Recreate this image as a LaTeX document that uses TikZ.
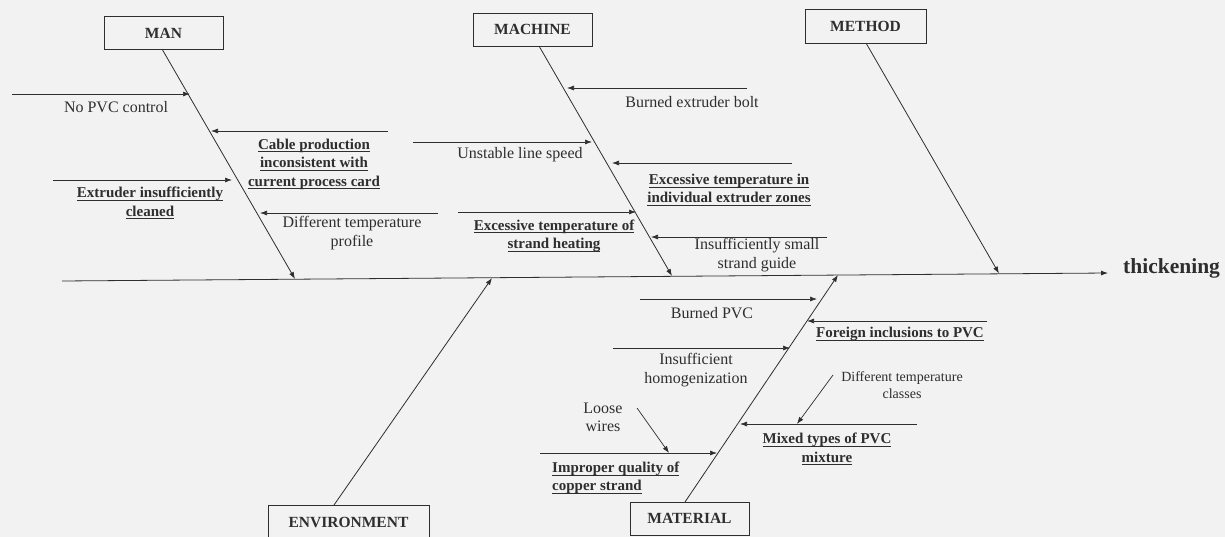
\documentclass[tikz,border=0pt]{standalone}
\usepackage{fontspec}
\setmainfont{Liberation Serif}
\usetikzlibrary{arrows.meta}
\definecolor{ink}{HTML}{2E2E2E}
\definecolor{paper}{HTML}{F2F2F2}
\newcommand{\ulin}[1]{\setbox0\hbox{#1}\leavevmode\rlap{\rule[-3pt]{\wd0}{0.9pt}}\box0}
\begin{document}
\begin{tikzpicture}[x=1pt,y=-1pt,
  every node/.style={text=ink, inner sep=0pt},
  catbox/.style={draw=ink, line width=0.8pt, minimum width=119pt, minimum height=33pt,
    font=\fontsize{15.5}{18}\selectfont\bfseries},
  bone/.style={draw=ink, line width=0.8pt, -{Latex[length=7pt,width=5pt]}},
  sub/.style={draw=ink, line width=0.7pt, -{Latex[length=7pt,width=5pt]}},
  lbl/.style={align=center, font=\fontsize{16}{18.5}\selectfont},
  blbl/.style={align=center, font=\fontsize{15}{18.5}\selectfont\bfseries},
  slbl/.style={align=center, font=\fontsize{14}{16.5}\selectfont},
]
\fill[paper] (0,0) rectangle (1225,537);
\useasboundingbox (0,0) rectangle (1225,537);

% category boxes
\node[catbox] (man) at (163.5,33) {MAN};
\node[catbox] (machine) at (532.5,29.5) {MACHINE};
\node[catbox, minimum width=121pt, minimum height=34pt] (method) at (865.5,26) {METHOD};
\node[catbox, minimum width=161pt, minimum height=34pt] (env) at (348.5,522) {ENVIRONMENT};
\node[catbox] (material) at (689.5,518.5) {MATERIAL};

% effect
\node[anchor=west, font=\fontsize{21.5}{24}\selectfont\bfseries] (thick) at (1123,268) {thickening};

% spine and bone coordinates
\coordinate (spL) at (62,281);
\coordinate (spR) at (1108,273);
\coordinate (manB) at (162,49);
\coordinate (manT) at (295,279);
\coordinate (machB) at (539,46);
\coordinate (machT) at (672,276);
\coordinate (methB) at (866,43);
\coordinate (methT) at (999,273.5);
\coordinate (envB) at (334,505);
\coordinate (envT) at (492,278);
\coordinate (matB) at (685,502);
\coordinate (matT) at (838,275);

\draw[bone] (spL) -- (spR);
\draw[bone] (manB) -- (manT);
\draw[bone] (machB) -- (machT);
\draw[bone] (methB) -- (methT);
\draw[bone] (envB) -- (envT);
\draw[bone] (matB) -- (matT);

% MAN causes
\coordinate (a1s) at (12,94);   \coordinate (a1e) at (190,94);
\coordinate (a2s) at (388,131); \coordinate (a2e) at (211,131);
\coordinate (a3s) at (53,180);  \coordinate (a3e) at (232,180);
\coordinate (a4s) at (438,213); \coordinate (a4e) at (260,213);
\draw[sub] (a1s) -- (a1e);
\draw[sub] (a2s) -- (a2e);
\draw[sub] (a3s) -- (a3e);
\draw[sub] (a4s) -- (a4e);
\node[lbl] (t1) at (116,107) {No PVC control};
\node[blbl] (t2) at (314,164) {\ulin{Cable production}\\\ulin{inconsistent with}\\\ulin{current process card}};
\node[blbl] (t3) at (150,203) {\ulin{Extruder insufficiently}\\\ulin{cleaned}};
\node[lbl] (t4) at (352,233) {Different temperature\\profile};

% MACHINE causes
\coordinate (b1s) at (747,88);  \coordinate (b1e) at (567,88);
\coordinate (b2s) at (413,142); \coordinate (b2e) at (592,142);
\coordinate (b3s) at (792,163); \coordinate (b3e) at (612,163);
\coordinate (b4s) at (458,212); \coordinate (b4e) at (636,212);
\coordinate (b5s) at (827,237); \coordinate (b5e) at (651,237);
\draw[sub] (b1s) -- (b1e);
\draw[sub] (b2s) -- (b2e);
\draw[sub] (b3s) -- (b3e);
\draw[sub] (b4s) -- (b4e);
\draw[sub] (b5s) -- (b5e);
\node[lbl] (u1) at (692,102) {Burned extruder bolt};
\node[lbl] (u2) at (520,155) {Unstable line speed};
\node[blbl] (u3) at (729,190) {\ulin{Excessive temperature in}\\\ulin{individual extruder zones}};
\node[blbl] (u4) at (554,236) {\ulin{Excessive temperature of}\\\ulin{strand heating}};
\node[lbl] (u5) at (757,255) {Insufficiently small\\strand guide};

% MATERIAL causes
\coordinate (c1s) at (640,299); \coordinate (c1e) at (817,299);
\coordinate (c2s) at (987,321); \coordinate (c2e) at (807,321);
\coordinate (c3s) at (613,348); \coordinate (c3e) at (790,348);
\coordinate (c4s) at (917,424); \coordinate (c4e) at (740,424);
\coordinate (c5s) at (833,375); \coordinate (c5e) at (797,424);
\coordinate (c6s) at (540,453); \coordinate (c6e) at (717,453);
\coordinate (c7s) at (637,408); \coordinate (c7e) at (669,453);
\draw[sub] (c1s) -- (c1e);
\draw[sub] (c2s) -- (c2e);
\draw[sub] (c3s) -- (c3e);
\draw[sub] (c4s) -- (c4e);
\draw[sub] (c5s) -- (c5e);
\draw[sub] (c6s) -- (c6e);
\draw[sub] (c7s) -- (c7e);
\node[lbl] (v1) at (712,313) {Burned PVC};
\node[blbl] (v2) at (900,334) {\ulin{Foreign inclusions to PVC}};
\node[lbl] (v3) at (696,370) {Insufficient\\homogenization};
\node[blbl] (v4) at (827,449) {\ulin{Mixed types of PVC}\\\ulin{mixture}};
\node[slbl] (v5) at (902,385) {Different temperature\\classes};
\node[blbl, align=left, anchor=west] (v6) at (552,478) {\ulin{Improper quality of}\\\ulin{copper strand}};
\node[lbl] (v7) at (603,417.5) {Loose\\wires};
\end{tikzpicture}
\end{document}
